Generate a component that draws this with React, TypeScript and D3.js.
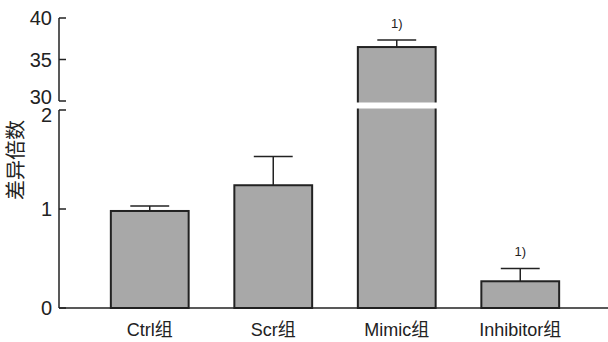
import React from "react";
import * as d3 from "d3";

const categories = ["Ctrl组", "Scr组", "Mimic组", "Inhibitor组"];
const means = [0.98, 1.24, 36.5, 0.27];
const errors = [0.05, 0.29, 0.85, 0.13];
const marks = ["", "", "1)", "1)"];
const lowTicks = [0, 1, 2];
const highTicks = [30, 35, 40];
const BREAK = 2; // values above this go on the upper segment

const W = 608;
const H = 342;
const axisX = 59;

export default function App() {
  const x = d3
    .scaleBand()
    .domain(categories)
    .range([88, 582])
    .paddingInner(0.37)
    .paddingOuter(0.185);
  const yLow = d3.scaleLinear().domain([0, 2]).range([308, 110]);
  const yHigh = d3.scaleLinear().domain([30, 40]).range([101, 18]);
  const yOf = (v: number) => (v > BREAK ? yHigh(v) : yLow(v));
  const font = "'Liberation Sans', Arial, Helvetica, 'Noto Sans CJK SC', sans-serif";
  const cjk = "'Noto Sans CJK SC', 'Liberation Sans', sans-serif";
  const bw = x.bandwidth();

  // labels at the break are nudged apart, as in the source figure
  const nudge = (t: number) => (t === 30 ? -4 : t === 2 ? 5 : 0);

  return (
    <svg
      width={W}
      height={H}
      style={{ position: "absolute", left: 0, top: 0, background: "#fff" }}
    >
      {/* bars */}
      {categories.map((c, i) => {
        const x0 = x(c)!;
        const cx = x0 + bw / 2;
        const top = yOf(means[i]);
        const errTop = yOf(means[i] + errors[i]);
        const broken = means[i] > BREAK;
        return (
          <g key={c}>
            <line x1={cx} x2={cx} y1={top} y2={errTop} stroke="#222" strokeWidth={1.5} />
            <line x1={cx - bw / 4} x2={cx + bw / 4} y1={errTop} y2={errTop} stroke="#222" strokeWidth={1.5} />
            <rect
              x={x0}
              y={top}
              width={bw}
              height={yLow(0) - top}
              fill="#a8a8a8"
              stroke="#222"
              strokeWidth={2}
            />
            {broken && (
              <rect
                x={x0 - 2}
                y={yHigh(30) + 1.5}
                width={bw + 4}
                height={yLow(2) - yHigh(30) - 3}
                fill="#fff"
              />
            )}
            {marks[i] && (
              <text x={cx} y={errTop - 12} textAnchor="middle" fontFamily={font} fontSize={13} fill="#222">
                {marks[i]}
              </text>
            )}
            <text x={cx} y={336} textAnchor="middle" fontFamily={font} fontSize={18} fill="#222">
              {c}
            </text>
          </g>
        );
      })}

      {/* x axis */}
      <line x1={axisX} x2={W} y1={yLow(0)} y2={yLow(0)} stroke="#222" strokeWidth={1.5} />

      {/* lower y segment */}
      <line x1={axisX} x2={axisX} y1={yLow(2)} y2={yLow(0)} stroke="#222" strokeWidth={1.5} />
      {lowTicks.map((t) => (
        <g key={"l" + t}>
          <line x1={axisX} x2={axisX + 7} y1={yLow(t)} y2={yLow(t)} stroke="#222" strokeWidth={1.5} />
          <text x={52} y={yLow(t) + nudge(t)} dy="0.35em" textAnchor="end" fontFamily={font} fontSize={20} fill="#222">
            {t}
          </text>
        </g>
      ))}

      {/* upper y segment */}
      <line x1={axisX} x2={axisX} y1={yHigh(40)} y2={yHigh(30)} stroke="#222" strokeWidth={1.5} />
      {highTicks.map((t) => (
        <g key={"h" + t}>
          <line x1={axisX} x2={axisX + 7} y1={yHigh(t)} y2={yHigh(t)} stroke="#222" strokeWidth={1.5} />
          <text x={52} y={yHigh(t) + nudge(t)} dy="0.35em" textAnchor="end" fontFamily={font} fontSize={20} fill="#222">
            {t}
          </text>
        </g>
      ))}

      {/* y title */}
      <text
        transform={`translate(23,160) rotate(-90)`}
        textAnchor="middle"
        fontFamily={cjk}
        fontSize={20}
        fill="#222"
      >
        差异倍数
      </text>
    </svg>
  );
}
